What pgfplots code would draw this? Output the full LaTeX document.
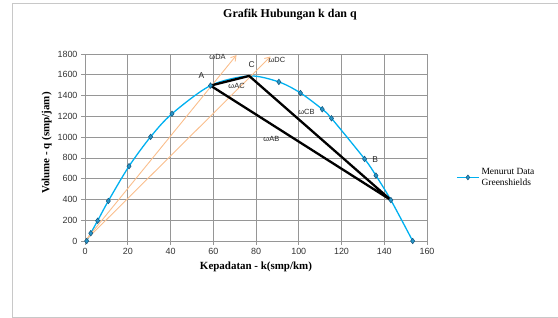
\documentclass[border=0pt]{standalone}
\usepackage{pgfplots}
\pgfplotsset{compat=1.18}
\usepackage{fontspec}
\setmainfont{Liberation Serif}
\newfontfamily\sans{Liberation Sans}
\usetikzlibrary{arrows.meta}
\definecolor{curve}{RGB}{0,176,240}
\definecolor{mfill}{RGB}{40,150,200}
\definecolor{mdraw}{RGB}{20,85,125}
\definecolor{orng}{RGB}{250,190,140}
\definecolor{gridc}{RGB}{150,150,150}
\definecolor{framec}{RGB}{200,200,200}
\begin{document}
\begin{tikzpicture}
\useasboundingbox (0bp,0bp) rectangle (558bp,318bp);
\draw[framec, line width=1bp] (12bp,0.8bp) -- (12bp,314bp) -- (600bp,314bp);
\draw[framec, line width=1bp] (12bp,0.8bp) -- (600bp,0.8bp);
\node[font=\bfseries\fontsize{12}{14}\selectfont] at (290bp,303bp) {Grafik Hubungan k dan q};
\coordinate (O) at (85bp,77bp);
\begin{axis}[
  at={(O)}, anchor=south west,
  width=342bp, height=187bp, scale only axis,
  xmin=0, xmax=160, ymin=0, ymax=1800,
  xtick={0,20,...,160}, ytick={0,200,...,1800},
  grid=major, major grid style={gridc, line width=0.7bp},
  axis line style={gridc, line width=0.8bp},
  tick style={gridc, line width=0.7bp},
  tick align=outside, major tick length=4bp,
  xtick pos=left, ytick pos=left,
  /pgf/number format/assume math mode=true,
  /pgf/number format/1000 sep={},
  ticklabel style={font=\sans\fontsize{9}{10}\selectfont, text=black!80},
  xlabel={Kepadatan - k(smp/km)},
  ylabel={Volume - q (smp/jam)},
  label style={font=\bfseries\fontsize{11}{12}\selectfont},
  xlabel style={at={(axis description cs:0.5,-0.139)}, anchor=center},
  ylabel style={at={(axis description cs:-0.112,0.524)}, anchor=center, rotate=0},
  clip=false,
  legend style={draw=none, fill=none, at={(axis description cs:1.085,0.34)}, anchor=west,
    font=\fontsize{9.5}{10.5}\selectfont, nodes={align=left}, inner sep=0pt, row sep=0pt},
  legend cell align=left,
  legend image code/.code={\draw[#1, mark repeat=2, mark phase=2] plot coordinates {(0bp,0bp) (11bp,0bp) (22bp,0bp)};},
]
% curve (line only)
\addplot[curve, line width=1.3bp, smooth, forget plot] coordinates {
(0.8,0) (2.7,75) (5.9,195) (10.9,385) (20.6,720) (30.7,1003) (40.7,1225) (58.7,1496) (76.8,1589) (90.7,1531) (100.8,1425) (111,1268) (115.3,1181) (130.8,790) (136.1,630) (143.1,394) (153.3,0)};
% data markers
\addplot[only marks, mark=diamond*, mark size=2.8, mark options={fill=mfill, draw=mdraw, line width=0.5bp}, forget plot] coordinates {
(0.8,0) (2.7,75) (5.9,195) (10.9,385) (20.6,720) (30.7,1003) (40.7,1225) (58.7,1496) (90.7,1531) (100.8,1425) (111,1268) (115.3,1181) (130.8,790) (136.1,630) (143.1,394) (153.3,0)};
% orange rays
\addplot[orng, line width=0.9bp, -{Straight Barb[length=5bp,width=6bp]}, forget plot] coordinates {(0,0) (70.9,1790)};
\addplot[orng, line width=0.9bp, -{Straight Barb[length=5bp,width=6bp]}, forget plot] coordinates {(0,0) (86.8,1776)};
% black triangle
\addplot[black, line width=2.3bp, line join=round, forget plot] coordinates {(58.7,1496) (76.8,1589) (143.1,394) (58.7,1496)};
\addlegendimage{curve, line width=1.3bp, mark=diamond*, mark size=2.5, mark options={fill=mfill, draw=mdraw, line width=0.5bp}}
\addlegendentry{Menurut Data\\Greenshields}
% labels
\begin{scope}[every node/.style={font=\sans\fontsize{7.5}{9}\selectfont, text=black!85}]
\node at (axis cs:62,1772) {ωDA};
\node at (axis cs:89.8,1745) {ωDC};
\node[font=\sans\fontsize{8.5}{9}\selectfont] at (axis cs:78,1700) {C};
\node[font=\sans\fontsize{8.5}{9}\selectfont] at (axis cs:54.5,1588) {A};
\node[font=\sans\fontsize{8.5}{9}\selectfont] at (axis cs:135.8,786) {B};
\node at (axis cs:70.9,1493) {ωAC};
\node at (axis cs:103.6,1241) {ωCB};
\node at (axis cs:87.2,981) {ωAB};
\end{scope}
\end{axis}
\end{tikzpicture}
\end{document}
